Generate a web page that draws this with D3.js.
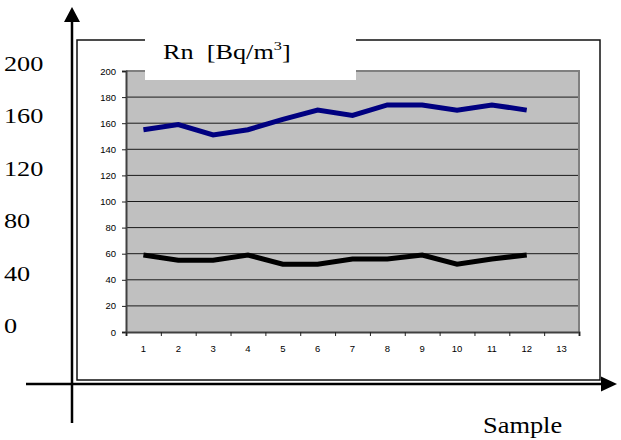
<!DOCTYPE html>
<html>
<head>
<meta charset="utf-8">
<script src="https://cdn.jsdelivr.net/npm/d3@7/dist/d3.min.js"></script>
<style>
  html, body { margin: 0; padding: 0; background: #fff; }
  svg { display: block; }
  .serif { font-family: "Liberation Serif", "Times New Roman", serif; fill: #000; white-space: pre; }
  .tick text { font-family: "Liberation Sans", Arial, sans-serif; font-size: 9.5px; fill: #000; }
</style>
</head>
<body>
<svg id="chart" width="621" height="440"></svg>
<script>
// Sample numbers along the category axis
const categories = [1, 2, 3, 4, 5, 6, 7, 8, 9, 10, 11, 12, 13];
// Radon concentration per sample, upper (blue) and lower (black) series
const blueSeries  = [155, 159, 151, 155, 163, 170, 166, 174, 174, 170, 174, 170];
const blackSeries = [59, 55, 55, 59, 52, 52, 56, 56, 59, 52, 56, 59];
// Inner axis tick values and the large outer scale labels
const yTicks = [0, 20, 40, 60, 80, 100, 120, 140, 160, 180, 200];
const outerLabels = [200, 160, 120, 80, 40, 0];
const titleMain = "Rn  [Bq/m";
const titleSup = "3";
const titleEnd = "]";
const xTitle = "Sample";

const svg = d3.select("#chart");

// Outer frame
svg.append("rect")
  .attr("x", 77).attr("y", 40).attr("width", 523).attr("height", 340)
  .attr("fill", "#fff").attr("stroke", "#111").attr("stroke-width", 1.5);

// Plot area
const plot = { left: 126, right: 579, top: 71, bottom: 332 };
const x = d3.scaleBand().domain(categories).range([plot.left, plot.right]);
const xEdge = d3.scaleLinear().domain([0, categories.length]).range([plot.left, plot.right]);
const y = d3.scaleLinear().domain([0, 200]).range([plot.bottom, plot.top]);

svg.append("rect")
  .attr("x", plot.left).attr("y", plot.top)
  .attr("width", plot.right - plot.left).attr("height", plot.bottom - plot.top)
  .attr("fill", "#c0c0c0");

// Horizontal gridlines
svg.append("g").selectAll("line")
  .data(yTicks.filter(d => d > 0 && d < 200))
  .join("line")
  .attr("x1", plot.left).attr("x2", plot.right)
  .attr("y1", d => y(d)).attr("y2", d => y(d))
  .attr("stroke", "#1a1a1a").attr("stroke-width", 1);

// Plot border top and right
svg.append("path")
  .attr("d", `M${plot.left},${plot.top}H${plot.right}V${plot.bottom}`)
  .attr("fill", "none").attr("stroke", "#808080").attr("stroke-width", 2);

// Y axis
const yAxis = svg.append("g")
  .attr("transform", `translate(${plot.left},0)`)
  .call(d3.axisLeft(y).tickValues(yTicks).tickSize(4).tickPadding(6));
yAxis.select(".domain").attr("stroke", "#404040").attr("stroke-width", 2);
yAxis.selectAll(".tick line").attr("stroke", "#222");

// X axis: tick marks on band edges, labels at band centres
const xTicksG = svg.append("g")
  .attr("transform", `translate(0,${plot.bottom})`)
  .call(d3.axisBottom(xEdge).tickValues(d3.range(0, categories.length + 1)).tickFormat("").tickSize(4));
xTicksG.select(".domain").attr("stroke", "#404040").attr("stroke-width", 2);
xTicksG.selectAll(".tick line").attr("stroke", "#222");

const xLabels = svg.append("g")
  .attr("transform", `translate(0,${plot.bottom})`)
  .call(d3.axisBottom(x).tickSize(0).tickPadding(13));
xLabels.select(".domain").remove();

// Series lines
const line = d3.line()
  .x((d, i) => x(categories[i]) + x.bandwidth() / 2)
  .y(d => y(d));

svg.append("path").datum(blueSeries)
  .attr("d", line).attr("fill", "none")
  .attr("stroke", "#000080").attr("stroke-width", 5).attr("stroke-linejoin", "miter");

svg.append("path").datum(blackSeries)
  .attr("d", line).attr("fill", "none")
  .attr("stroke", "#000").attr("stroke-width", 5).attr("stroke-linejoin", "miter");

// Title box over the frame
svg.append("rect")
  .attr("x", 145).attr("y", 36).attr("width", 211).attr("height", 44)
  .attr("fill", "#fff");

const title = svg.append("text")
  .attr("class", "serif")
  .attr("transform", "translate(163,59) scale(1.25,1)")
  .attr("font-size", 21);
title.append("tspan").text(titleMain);
title.append("tspan").attr("font-size", 13).attr("dy", -9).text(titleSup);
title.append("tspan").attr("dy", 9).text(titleEnd);

// Large outer scale labels
const yOuter = d3.scaleLinear().domain([0, 200]).range([333, 71]);
svg.append("g").selectAll("text")
  .data(outerLabels)
  .join("text")
  .attr("class", "serif")
  .attr("font-size", 21)
  .attr("transform", d => `translate(4,${yOuter(d)}) scale(1.25,1)`)
  .text(d => d);

// Outer arrow axes
svg.append("line")
  .attr("x1", 72).attr("x2", 72).attr("y1", 18).attr("y2", 423)
  .attr("stroke", "#000").attr("stroke-width", 2.5);
svg.append("path")
  .attr("d", "M72,7L64,22L80,22Z").attr("fill", "#000");

svg.append("line")
  .attr("x1", 26).attr("x2", 604).attr("y1", 384).attr("y2", 384)
  .attr("stroke", "#000").attr("stroke-width", 2.5);
svg.append("path")
  .attr("d", "M617,384L601,376.5L601,391.5Z").attr("fill", "#000");

// X title
svg.append("text")
  .attr("class", "serif")
  .attr("font-size", 24)
  .attr("transform", "translate(483,433) scale(1.1,1)")
  .text(xTitle);
</script>
</body>
</html>
